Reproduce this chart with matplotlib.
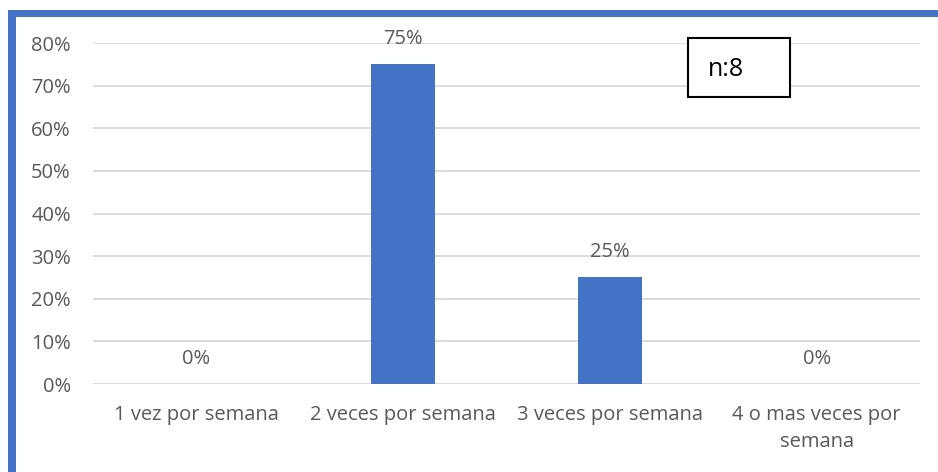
import matplotlib.pyplot as plt
from matplotlib.patches import Rectangle

categories = ["1 vez por semana", "2 veces por semana", "3 veces por semana", "4 o mas veces por\nsemana"]
values = [0, 75, 25, 0]
yticks = [0, 10, 20, 30, 40, 50, 60, 70, 80]

blue = "#4472C4"
grey = "#595959"
plt.rcParams['font.family'] = ['Open Sans', 'DejaVu Sans']

fig = plt.figure(figsize=(9.38, 4.72), dpi=100)
ax = fig.add_axes([93 / 938, 88 / 472, 827 / 938, 341 / 472])

x = range(len(categories))
ax.bar(x, values, width=0.31, color=blue, zorder=3)
for i, v in zip(x, values):
    ax.annotate(f"{v}%", (i, v), xytext=(0, 18), textcoords="offset points",
                ha="center", va="center", fontsize=14.5, color=grey)

ax.set_xlim(-0.5, len(categories) - 0.5)
ax.set_ylim(0, 80)
ax.set_yticks(yticks)
ax.set_yticklabels([f"{t}%" for t in yticks])
ax.set_xticks(list(x))
ax.set_xticklabels(categories, linespacing=1.45)
ax.grid(axis="y", color="#D9D9D9", linewidth=1.3, zorder=0)
for s in ax.spines.values():
    s.set_visible(False)
ax.tick_params(axis="both", length=0, labelsize=14.5, labelcolor=grey)
ax.tick_params(axis="y", pad=16)
ax.tick_params(axis="x", pad=15)

# n box
fig.patches.append(Rectangle((688 / 938, (472 - 97) / 472), 102 / 938, 59 / 472,
                             transform=fig.transFigure, facecolor="white",
                             edgecolor="black", linewidth=1.5, zorder=5))
fig.text(708 / 938, (472 - 70) / 472, "n:8", fontsize=18, color="black",
         ha="left", va="center", zorder=6)

# blue frame on left and top
fig.patches.append(Rectangle((8 / 938, 0), 8 / 938, 462 / 472, transform=fig.transFigure,
                             facecolor=blue, edgecolor="none"))
fig.patches.append(Rectangle((8 / 938, 455 / 472), 930 / 938, 7 / 472, transform=fig.transFigure,
                             facecolor=blue, edgecolor="none"))

fig.savefig("out.png", dpi=100)
